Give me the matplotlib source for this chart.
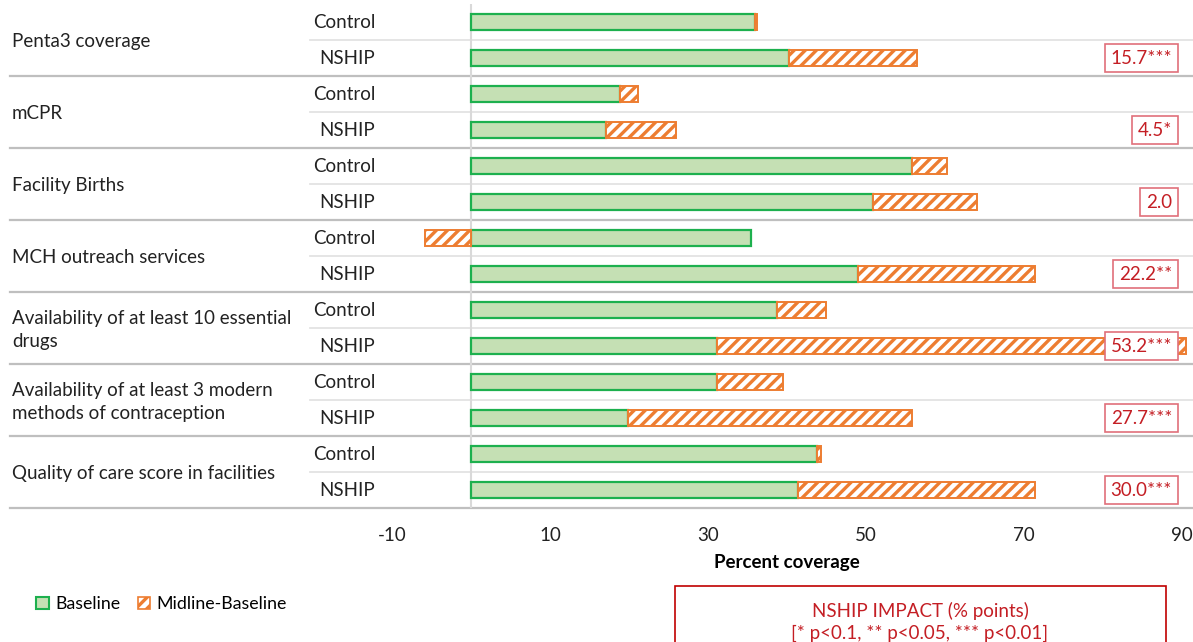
import matplotlib
matplotlib.use('Agg')
import matplotlib.pyplot as plt
from matplotlib.patches import Rectangle, Patch
import numpy as np

plt.rcParams['font.family'] = ['Lato', 'DejaVu Sans']
plt.rcParams['hatch.linewidth'] = 2.4
plt.rcParams['axes.unicode_minus'] = False

# indicators, two arms each (Control above NSHIP)
indicators = ['Penta3 coverage', 'mCPR', 'Facility Births', 'MCH outreach services',
              'Availability of at least 10 essential\ndrugs',
              'Availability of at least 3 modern\nmethods of contraception',
              'Quality of care score in facilities']
arms = ['Control', 'NSHIP']

baseline_control = [35.9, 18.9, 55.8, 35.4, 38.7, 31.2, 43.8]
change_control = [0.3, 2.3, 4.4, -5.8, 6.2, 8.3, 0.5]
baseline_nship = [40.3, 17.1, 50.9, 49.0, 31.2, 19.9, 41.4]
change_nship = [16.1, 8.8, 13.1, 22.4, 59.3, 35.9, 30.0]
impact = ['15.7***', '4.5*', '2.0', '22.2**', '53.2***', '27.7***', '30.0***']

green_fill = '#C5E0B4'
green_edge = '#1DB04E'
orange = '#ED7D31'
red = '#C41E24'
grid_dark = '#BFBFBF'
grid_light = '#E3E3E3'
fs = 13.5

W, H = 1193, 642
fig = plt.figure(figsize=(W / 100, H / 100), dpi=100)
ax = fig.add_axes([392 / W, 1 - 508 / H, (1182 - 392) / W, 504 / H])

n = len(indicators)
rows_c = np.arange(n) * 2
rows_n = rows_c + 1
bh = 0.43

def draw(rows, base, chg):
    for y, b, c in zip(rows, base, chg):
        ax.barh(y, b, height=bh, color=green_fill, edgecolor=green_edge, linewidth=1.6, zorder=3)
        left = b if c >= 0 else 0
        ax.barh(y, c, left=left, height=bh, color='white', edgecolor=orange, hatch='///',
                linewidth=1.4, zorder=3, clip_on=False)

draw(rows_c, baseline_control, change_control)
draw(rows_n, baseline_nship, change_nship)

ax.set_xlim(-10, 90)
ax.set_ylim(2 * n - 0.5, -0.5)
ax.axvline(0, color='#D9D9D9', lw=1.5, zorder=2)

for s in ax.spines.values():
    s.set_visible(False)
ax.set_yticks([])
ax.set_xticks([-10, 10, 30, 50, 70, 90])
ax.tick_params(axis='x', length=0, labelsize=fs, pad=14, colors='#222222')
ax.set_xlabel('Percent coverage', fontsize=fs, fontweight='bold', labelpad=7)

# separators between arms (light) and between indicators (dark)
tr = ax.get_yaxis_transform()
x_far_left = (10 - 392) / (1182 - 392)
x_mid_left = (310 - 392) / (1182 - 392)
x_right = (1193 - 392) / (1182 - 392)
for i in range(n):
    ax.plot([x_mid_left, x_right], [2 * i + 0.5] * 2, transform=tr, color=grid_light,
            lw=1.3, clip_on=False, zorder=1)
    ax.plot([x_far_left, x_right], [2 * i + 1.5] * 2, transform=tr, color=grid_dark,
            lw=1.6, clip_on=False, zorder=1)

# category and arm labels
x_cat = (12 - 392) / (1182 - 392)
x_arm = (375 - 392) / (1182 - 392)
for i, name in enumerate(indicators):
    ax.text(x_cat, 2 * i + 0.55, name, transform=tr, ha='left', va='center',
            fontsize=fs, color='#222222', linespacing=1.4)
    for j, arm in enumerate(arms):
        ax.text(x_arm, 2 * i + j, arm, transform=tr, ha='right', va='center',
                fontsize=fs, color='#222222')

# impact estimates boxed on the NSHIP rows
x_imp = (1172 - 392) / (1182 - 392)
for i, lab in enumerate(impact):
    ax.text(x_imp, 2 * i + 1, lab, transform=tr, ha='right', va='center', fontsize=fs,
            color=red, zorder=5,
            bbox=dict(boxstyle='square,pad=0.3', facecolor='white', edgecolor='#E0707A', lw=1.2))

# legend
handles = [Patch(facecolor=green_fill, edgecolor=green_edge, lw=1.5, label='Baseline'),
           Patch(facecolor='white', edgecolor=orange, hatch='///', lw=1.2, label='Midline-Baseline')]
fig.legend(handles=handles, loc='center left', bbox_to_anchor=(24 / W, 1 - 604 / H),
           ncol=2, frameon=False, fontsize=12.8, handlelength=0.7, handleheight=0.7,
           handletextpad=0.35, columnspacing=1.0, borderpad=0.2)

# note box at the bottom
fig.patches.append(Rectangle((675 / W, 1 - 660 / H), (1166 - 675) / W, (660 - 586) / H,
                             transform=fig.transFigure, fill=False, edgecolor='#C00000', lw=1.2))
fig.text(920 / W, 1 - 611 / H, 'NSHIP IMPACT (% points)', ha='center', va='center',
         fontsize=fs, color=red)
fig.text(920 / W, 1 - 633 / H, '[* p<0.1, ** p<0.05, *** p<0.01]', ha='center', va='center',
         fontsize=fs, color=red)

fig.savefig('out.png', dpi=100)
